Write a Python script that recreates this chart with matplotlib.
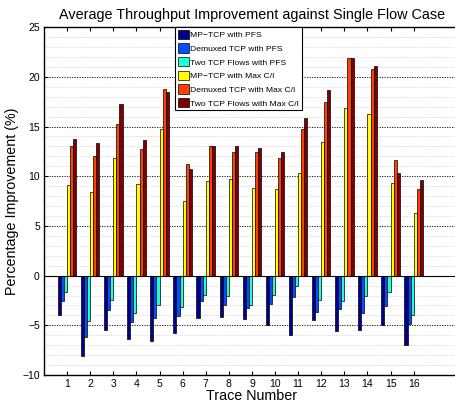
import matplotlib

matplotlib.use("Agg")

import matplotlib.pyplot as plt
import numpy as np
from matplotlib.ticker import MultipleLocator

plt.rcParams["font.family"] = ["Liberation Sans", "DejaVu Sans"]

traces = list(range(1, 17))
series_names = [
    "MP\u2212TCP with PFS",
    "Demuxed TCP with PFS",
    "Two TCP Flows with PFS",
    "MP\u2212TCP with Max C/I",
    "Demuxed TCP with Max C/I",
    "Two TCP Flows with Max C/I",
]
mptcp_pfs = [-3.97, -8.13, -5.48, -6.38, -6.62, -5.78, -4.27, -4.17,
             -4.37, -5.01, -6.02, -4.47, -5.61, -5.51, -5.01, -6.99]
demux_pfs = [-2.6, -6.15, -3.47, -4.67, -4.27, -4.07, -2.57, -2.97,
             -3.3, -2.83, -2.2, -3.67, -3.37, -3.8, -3.03, -4.88]
two_pfs = [-1.63, -4.54, -2.43, -3.77, -2.97, -3.17, -1.9, -2.06,
           -2.97, -1.9, -1.09, -2.46, -2.53, -2.06, -1.66, -3.94]
mptcp_maxci = [9.16, 8.42, 11.84, 9.2, 14.8, 7.5, 9.5, 9.76,
               8.79, 8.72, 10.36, 13.42, 16.83, 16.23, 9.3, 6.34]
demux_maxci = [13.05, 12.04, 15.3, 12.7, 18.77, 11.24, 13.0, 12.4,
               12.47, 11.87, 14.75, 17.43, 21.86, 20.75, 11.6, 8.72]
two_maxci = [13.75, 13.3, 17.27, 13.6, 18.5, 10.7, 13.0, 13.0,
             12.84, 12.47, 15.83, 18.64, 21.86, 21.08, 10.3, 9.63]

series = [mptcp_pfs, demux_pfs, two_pfs, mptcp_maxci, demux_maxci, two_maxci]
colors = ["#00008f", "#0050ff", "#20ffd8", "#ffff00", "#ff4000", "#800000"]

fig = plt.figure(figsize=(4.56, 4.05), dpi=100)
ax = fig.add_axes([0.0965, 0.074, 0.912, 0.859])

x = np.array(traces, dtype=float)
group_width = 0.8
bar_w = group_width / len(series)
for i, (vals, color, name) in enumerate(zip(series, colors, series_names)):
    offset = -group_width / 2 + bar_w * (i + 0.5)
    ax.bar(x + offset, vals, width=bar_w, color=color, edgecolor="black",
           linewidth=0.5, label=name, zorder=3)

ax.axhline(0, color="black", linewidth=0.8, zorder=4)

ax.set_xlim(0, 18)
ax.set_ylim(-10, 25)
ax.set_xticks(traces)
ax.yaxis.set_major_locator(MultipleLocator(5))
ax.yaxis.set_minor_locator(MultipleLocator(1))
ax.tick_params(axis="both", which="major", direction="in", labelsize=7.5,
               length=3, width=0.8, top=True, pad=3)
ax.tick_params(axis="y", which="minor", length=0)
ax.grid(axis="y", which="major", linestyle=(0, (1.5, 1.5)), color="black",
        linewidth=0.6, zorder=0)
ax.grid(axis="y", which="minor", linestyle=(0, (1.5, 1.5)), color="#cccccc",
        linewidth=0.5, zorder=0)
for side in ["left", "bottom", "top"]:
    ax.spines[side].set_linewidth(1.0)
ax.spines["right"].set_visible(False)

ax.set_title("Average Throughput Improvement against Single Flow Case",
             fontsize=10.4, pad=6)
ax.set_xlabel("Trace Number", fontsize=10.3, labelpad=0)
ax.set_ylabel("Percentage Improvement (%)", fontsize=10.3, labelpad=2)

leg = ax.legend(loc="upper left", bbox_to_anchor=(0.315, 1.0),
                borderaxespad=0, fontsize=6.1, fancybox=False,
                edgecolor="black", framealpha=1, handlelength=1.3,
                handleheight=1.3, handletextpad=0.2, labelspacing=0.5,
                borderpad=0.3)
leg.get_frame().set_linewidth(0.8)
leg.set_zorder(5)

fig.savefig("out.png", dpi=100)
